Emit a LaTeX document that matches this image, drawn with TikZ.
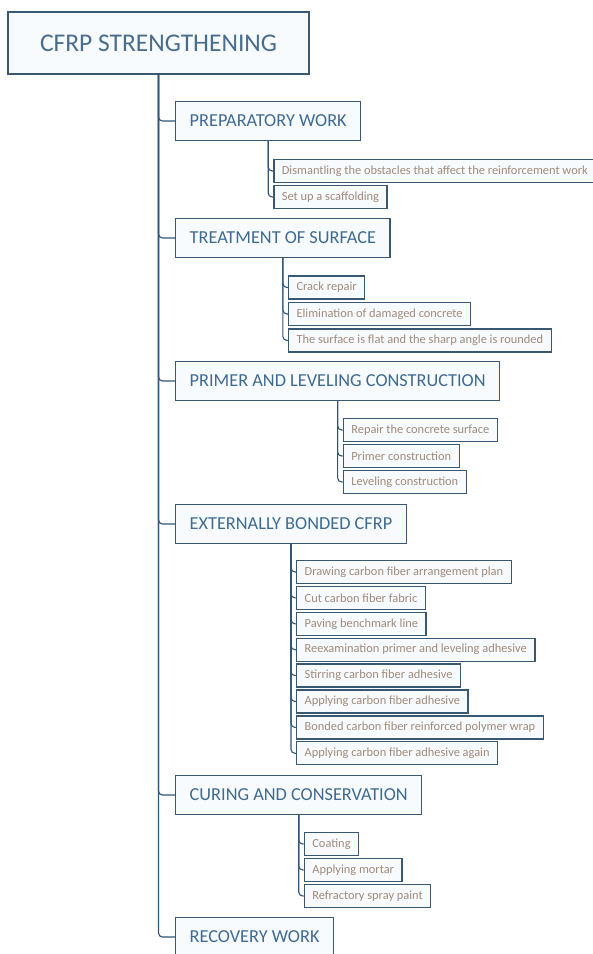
\documentclass[tikz,border=0pt]{standalone}
\usepackage{fontspec}
\setmainfont{Carlito}
\usepackage{tikz}
\usetikzlibrary{positioning,calc}
\definecolor{FrameBlue}{HTML}{3B5872}
\definecolor{LinkBlue}{HTML}{2F5679}
\definecolor{HeadBlue}{HTML}{3F6A92}
\definecolor{TaskBrown}{HTML}{A08A7C}
\definecolor{PaleFill}{HTML}{F8FBFD}
\begin{document}
\begin{tikzpicture}[x=1pt,y=-1pt,
  rootbox/.style={draw=FrameBlue,line width=1.8pt,fill=PaleFill,minimum width=301pt,minimum height=62pt,
    text=HeadBlue!85!gray,font=\fontsize{25.5}{28}\selectfont},
  phase/.style={draw=FrameBlue,line width=1.4pt,fill=PaleFill,anchor=west,inner xsep=14pt,minimum height=39pt,
    text=HeadBlue,font=\fontsize{18.3}{20}\selectfont},
  task/.style={draw=FrameBlue,line width=1.3pt,fill=PaleFill,anchor=west,inner xsep=8pt,minimum height=23pt,
    text=TaskBrown,font=\fontsize{12.4}{14}\selectfont},
  link/.style={LinkBlue,line width=1.1pt,rounded corners=4pt}]
\useasboundingbox (0,0) rectangle (593,954);
\node[rootbox] (root) at (158.5,43) {CFRP STRENGTHENING};
\node[phase] (prep) at (175,121) {PREPARATORY WORK};
\node[phase] (treat) at (175,238) {TREATMENT OF SURFACE};
\node[phase] (primer) at (175,381) {PRIMER AND LEVELING CONSTRUCTION};
\node[phase] (ext) at (175,524) {EXTERNALLY BONDED CFRP};
\node[phase] (cure) at (175,795) {CURING AND CONSERVATION};
\node[phase] (recov) at (175,937) {RECOVERY WORK};
\foreach \n in {prep,treat,primer,ext,cure,recov}
  \draw[link] (root.south) |- (\n.west);
\foreach \n in {prep,treat,primer,ext,cure}
  \coordinate (\n x) at ([xshift=5pt]\n.south);
\foreach \t [count=\i, evaluate=\i as \yy using 145+26*\i] in {Dismantling the obstacles that affect the reinforcement work,Set up a scaffolding}{
  \node[task] (prep\i) at (prepx |- 0,\yy) {\t};
  \draw[link] (prep.south) |- (prep\i.west);
}
\foreach \t [count=\i, evaluate=\i as \yy using 261+26.5*\i] in {Crack repair,Elimination of damaged concrete,The surface is flat and the sharp angle is rounded}{
  \node[task] (treat\i) at (treatx |- 0,\yy) {\t};
  \draw[link] (treat.south) |- (treat\i.west);
}
\foreach \t [count=\i, evaluate=\i as \yy using 404+26*\i] in {Repair the concrete surface,Primer construction,Leveling construction}{
  \node[task] (primer\i) at (primerx |- 0,\yy) {\t};
  \draw[link] (primer.south) |- (primer\i.west);
}
\foreach \t [count=\i, evaluate=\i as \yy using 546.1+25.9*\i] in {Drawing carbon fiber arrangement plan,Cut carbon fiber fabric,Paving benchmark line,Reexamination primer and leveling adhesive,Stirring carbon fiber adhesive,Applying carbon fiber adhesive,Bonded carbon fiber reinforced polymer wrap,Applying carbon fiber adhesive again}{
  \node[task] (ext\i) at (extx |- 0,\yy) {\t};
  \draw[link] (ext.south) |- (ext\i.west);
}
\foreach \t [count=\i, evaluate=\i as \yy using 818+26*\i] in {Coating,Applying mortar,Refractory spray paint}{
  \node[task] (cure\i) at (curex |- 0,\yy) {\t};
  \draw[link] (cure.south) |- (cure\i.west);
}
\end{tikzpicture}
\end{document}
